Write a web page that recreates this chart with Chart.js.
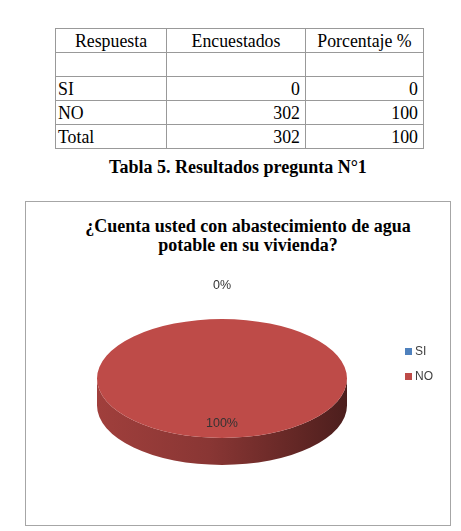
<!DOCTYPE html>
<html><head><meta charset="utf-8">
<script src="https://cdn.jsdelivr.net/npm/chart.js@4.4.1/dist/chart.umd.min.js"></script>
<style>
html,body{margin:0;padding:0;background:#fff;}
#page{position:relative;width:461px;height:531px;overflow:hidden;font-family:"Liberation Serif","Times New Roman",serif;color:#000;}
#tbl{position:absolute;left:55px;top:28px;border-collapse:collapse;table-layout:fixed;width:368px;font-size:17.8px;}
#tbl td{border:1px solid #999;padding:0;height:23px;line-height:20px;vertical-align:middle;white-space:nowrap;}
#tbl td.l{text-align:left;padding-left:2px;}
#tbl td.r{text-align:right;padding-right:5px;}
#tbl td.c{text-align:center;}
#caption{position:absolute;left:0;width:476px;top:156px;text-align:center;font-weight:bold;font-size:18px;line-height:22px;}
#box{position:absolute;left:25px;top:201px;width:424px;height:323px;border:1px solid #a6a6a6;}
#title{position:absolute;left:48px;width:400px;top:217px;text-align:center;font-weight:bold;font-size:18px;line-height:19px;}
#cv{position:absolute;left:26px;top:202px;}
.leg{position:absolute;left:405px;font-family:"Liberation Sans",Arial,sans-serif;font-size:12px;color:#404040;line-height:14px;}
.leg i{position:absolute;left:0;top:4px;width:7px;height:7px;}
.leg span{position:absolute;left:10px;top:0;}
</style></head>
<body>
<div id="page">
  <table id="tbl"><colgroup><col style="width:111px"><col style="width:139px"><col style="width:118px"></colgroup><tbody id="tb"></tbody></table>
  <div id="caption">Tabla 5. Resultados pregunta N°1</div>
  <div id="box"></div>
  <div id="title">¿Cuenta usted con abastecimiento de agua<br>potable en su vivienda?</div>
  <canvas id="cv" width="424" height="322"></canvas>
  <div id="legend"></div>
</div>
<script>
// ---- data ----
const headers = ['Respuesta', 'Encuestados', 'Porcentaje %'];
const categories = ['SI', 'NO'];
const encuestados = [0, 302];
const porcentaje = [0, 100];
const totalLabel = 'Total';
const totalEncuestados = 302;
const totalPorcentaje = 100;

// ---- styles ----
const pieColors = ['#4F81BD', '#BE4B48'];
const labelRadial = [1.57, 0.765];
const tilt = 0.476;
const depth = 27;

// table
const tb = document.getElementById('tb');
function row(cells, cls) {
  const tr = document.createElement('tr');
  cells.forEach((t, i) => { const td = document.createElement('td'); td.className = cls[i]; td.textContent = t; tr.appendChild(td); });
  tb.appendChild(tr);
}
row(headers, ['c', 'c', 'c']);
row(['', '', ''], ['l', 'r', 'r']);
categories.forEach((c, i) => row([c, String(encuestados[i]), String(porcentaje[i])], ['l', 'r', 'r']));
row([totalLabel, String(totalEncuestados), String(totalPorcentaje)], ['l', 'r', 'r']);

// legend
const legendTops = [344, 369];
const lg = document.getElementById('legend');
categories.forEach((c, i) => {
  const d = document.createElement('div'); d.className = 'leg'; d.style.top = legendTops[i] + 'px';
  d.innerHTML = '<i style="background:' + pieColors[i] + '"></i><span>' + c + '</span>';
  lg.appendChild(d);
});

function shade(hex, f) {
  const n = parseInt(hex.slice(1), 16);
  const r = Math.round(((n >> 16) & 255) * f), g = Math.round(((n >> 8) & 255) * f), b = Math.round((n & 255) * f);
  return 'rgb(' + r + ',' + g + ',' + b + ')';
}

const pie3d = {
  id: 'pie3d',
  beforeDatasetsDraw(chart) {
    const ctx = chart.ctx;
    const meta = chart.getDatasetMeta(0);
    const a0 = meta.data[0];
    const p = a0.getProps(['x', 'y', 'outerRadius'], true);
    const cx = p.x, cy = p.y, r = p.outerRadius, ry = r * tilt;
    meta.data.forEach((arc, i) => {
      const q = arc.getProps(['startAngle', 'endAngle'], true);
      [0, 2 * Math.PI, -2 * Math.PI].forEach(base => {
        const s = Math.max(q.startAngle, base), e = Math.min(q.endAngle, base + Math.PI);
        if (e <= s) return;
        const col = pieColors[i];
        const g = ctx.createLinearGradient(cx - r, 0, cx + r, 0);
        g.addColorStop(0, shade(col, 0.84));
        g.addColorStop(0.45, shade(col, 0.72));
        g.addColorStop(0.8, shade(col, 0.52));
        g.addColorStop(1, shade(col, 0.40));
        ctx.beginPath();
        ctx.ellipse(cx, cy, r, ry, 0, s, e, false);
        ctx.ellipse(cx, cy + depth, r, ry, 0, e, s, true);
        ctx.closePath();
        ctx.fillStyle = g;
        ctx.fill();
      });
    });
    ctx.save();
    ctx.translate(cx, cy);
    ctx.scale(1, tilt);
    ctx.translate(-cx, -cy);
  },
  afterDatasetsDraw(chart) {
    const ctx = chart.ctx;
    ctx.restore();
    const meta = chart.getDatasetMeta(0);
    const data = chart.data.datasets[0].data;
    const total = data.reduce((a, b) => a + b, 0);
    ctx.save();
    ctx.font = '12.5px "Liberation Sans", Arial, sans-serif';
    ctx.fillStyle = '#333333';
    ctx.textAlign = 'center';
    ctx.textBaseline = 'middle';
    meta.data.forEach((arc, i) => {
      const q = arc.getProps(['x', 'y', 'startAngle', 'endAngle', 'outerRadius'], true);
      const mid = (q.startAngle + q.endAngle) / 2;
      const f = labelRadial[i];
      const x = q.x + Math.cos(mid) * q.outerRadius * f;
      const y = q.y + Math.sin(mid) * q.outerRadius * tilt * f;
      ctx.fillText(Math.round(data[i] / total * 100) + '%', x, y);
    });
    ctx.restore();
  }
};

new Chart(document.getElementById('cv'), {
  type: 'pie',
  data: {
    labels: categories,
    datasets: [{ data: encuestados, backgroundColor: pieColors, borderWidth: 0, hoverOffset: 0 }]
  },
  options: {
    responsive: false,
    animation: false,
    radius: 125,
    layout: { padding: { left: 0, right: 32, top: 31, bottom: 0 } },
    plugins: { legend: { display: false }, tooltip: { enabled: false }, title: { display: false } },
    events: []
  },
  plugins: [pie3d]
});
</script>
</body></html>
